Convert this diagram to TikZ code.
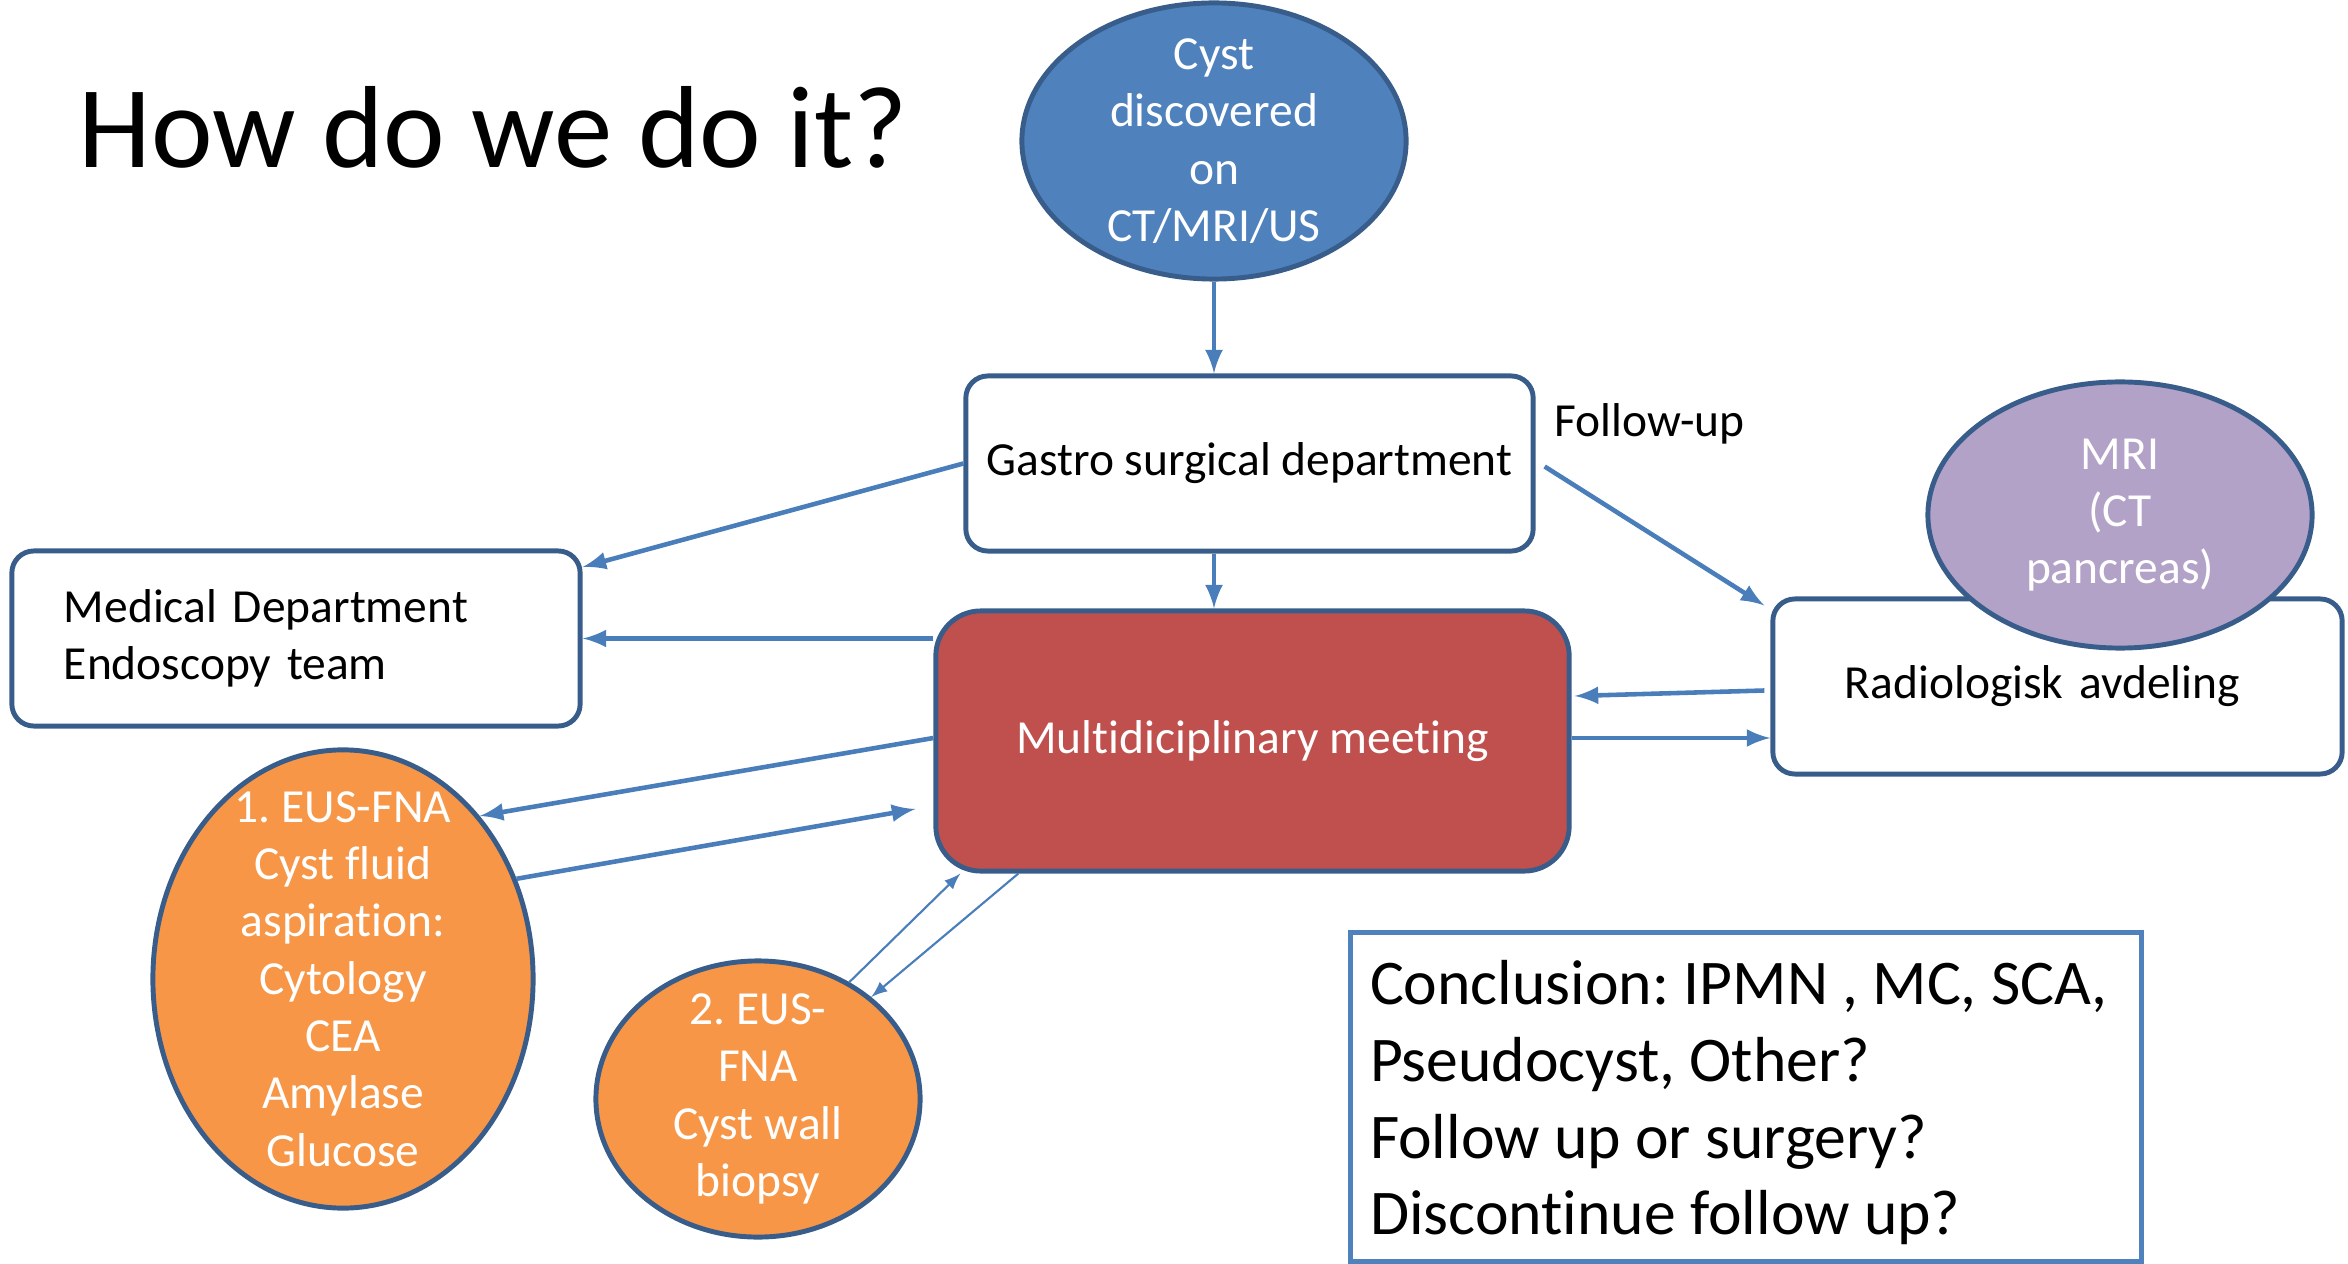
\documentclass[tikz,border=0pt]{standalone}
\usepackage{fontspec}
\setmainfont{Carlito}[Ligatures={NoCommon}]
\usetikzlibrary{shapes.geometric,calc}
\definecolor{ofblue}{HTML}{4F81BD}
\definecolor{ofline}{HTML}{385D8A}
\definecolor{ofred}{HTML}{C0504D}
\definecolor{oforange}{HTML}{F79646}
\definecolor{ofpurple}{HTML}{B3A2C7}
\definecolor{arrowblue}{HTML}{4A7EBB}
\frenchspacing

\begin{document}
\begin{tikzpicture}[
    x=0.01cm, y=-0.01cm,
    txt/.style={font={\fontsize{13.5}{16.3}\selectfont}, align=center, inner sep=0pt},
    dept/.style={txt, draw=ofline, line width=1.4pt, rounded corners=0.22cm,
        fill=white, minimum height=1.75cm},
    oval/.style={ellipse, draw=ofline, line width=1.4pt, inner sep=0pt},
    link/.style={draw=arrowblue, line width=1.3pt, -latex},
    thinlink/.style={link, line width=0.6pt},
    ]
    \useasboundingbox (0,0) rectangle (2348,1264);
    % Title
    \node[font={\fontsize{33.2}{40}\selectfont}, anchor=base west, inner sep=0pt]
        (title) at (78,168) {How do we do it?};
    % Cyst found
    \node[oval, fill=ofblue, minimum width=3.84cm, minimum height=2.76cm]
        (cyst) at (1214,141) {};
    \node[txt, text=white] (cysttxt) at (cyst) {Cyst\\discovered\\on\\CT/MRI/US};
    % Departments
    \node[dept, minimum width=5.67cm] (gastro) at (1249.5,463.5)
        {Gastro surgical department};
    \node[dept, text width=4.64cm, inner xsep=0.52cm, align=left]
        (med) at (296,638.5) {Medical Department\\Endoscopy team};
    \node[dept, text width=4.25cm, inner xsep=0.72cm, align=left]
        (rad) at (2057.5,686.5) {Radiologisk avdeling};
    \node[oval, fill=ofpurple, minimum width=3.84cm, minimum height=2.66cm]
        (mri) at (2120,515) {};
    \node[txt, text=white] (mritxt) at (mri) {MRI\\(CT\\pancreas)};
    % Meeting
    \node[dept, fill=ofred, text=white, minimum width=6.33cm, minimum height=2.6cm,
        rounded corners=0.45cm] (mdm) at (1252.5,741) {Multidiciplinary meeting};
    % EUS
    \node[oval, fill=oforange, minimum width=3.8cm, minimum height=4.58cm]
        (eus1) at (343,979) {};
    \node[txt, text=white] (eus1txt) at (eus1)
        {1. EUS-FNA\\Cyst fluid\\aspiration:\\Cytology\\CEA\\Amylase\\Glucose};
    \node[oval, fill=oforange, minimum width=3.24cm, minimum height=2.76cm]
        (eus2) at (758,1099) {};
    \node[txt, text=white] (eus2txt) at (eus2) {2. EUS-\\FNA\\Cyst wall\\biopsy};
    % Conclusion
    \node[draw=ofblue, line width=1.4pt, minimum width=7.9cm, minimum height=3.28cm]
        (concl) at (1746,1097) {};
    \node[anchor=west, align=left, inner sep=0pt,
        font={\fontsize{18.1}{21.8}\selectfont}] (concltxt)
        at ($(concl.west)+(21,6)$)
        {Conclusion: IPMN , MC, SCA,\\Pseudocyst, Other?\\Follow up or surgery?\\Discontinue follow up?};
    % Arrows
    \draw[link] (cyst.south) -- (cyst.south |- gastro.north);
    \draw[link] (gastro.west) -- (med.14);
    \draw[link] (cyst.south |- gastro.south) -- (cyst.south |- mdm.north);
    \draw[link] (med.east -| mdm.west) -- (med.east);
    \draw[link] ($(mdm.west)+(0,-3)$) -- (eus1.50);
    \draw[link] (eus1.30) -- ($(mdm.west)+(-18,68)$);
    \draw[thinlink] (eus2.52) -- ($(mdm.south west)+(27,0)$);
    \draw[thinlink] ($(mdm.south west)+(85,0)$) -- (eus2.42);
    \draw[link] ($(gastro.east)+(9,3)$) -- ($(rad.north west)+(-6,9)$);
    \node[txt, anchor=base west] (fu) at (1554,437) {Follow-up};
    \draw[link] ($(rad.west)+(-6,4)$) -- ($(mdm.east)+(3,-45)$);
    \draw[link] ($(mdm.east)+(0,-3)$) -- ($(mdm.east -| rad.west)+(0,-3)$);
\end{tikzpicture}
\end{document}
